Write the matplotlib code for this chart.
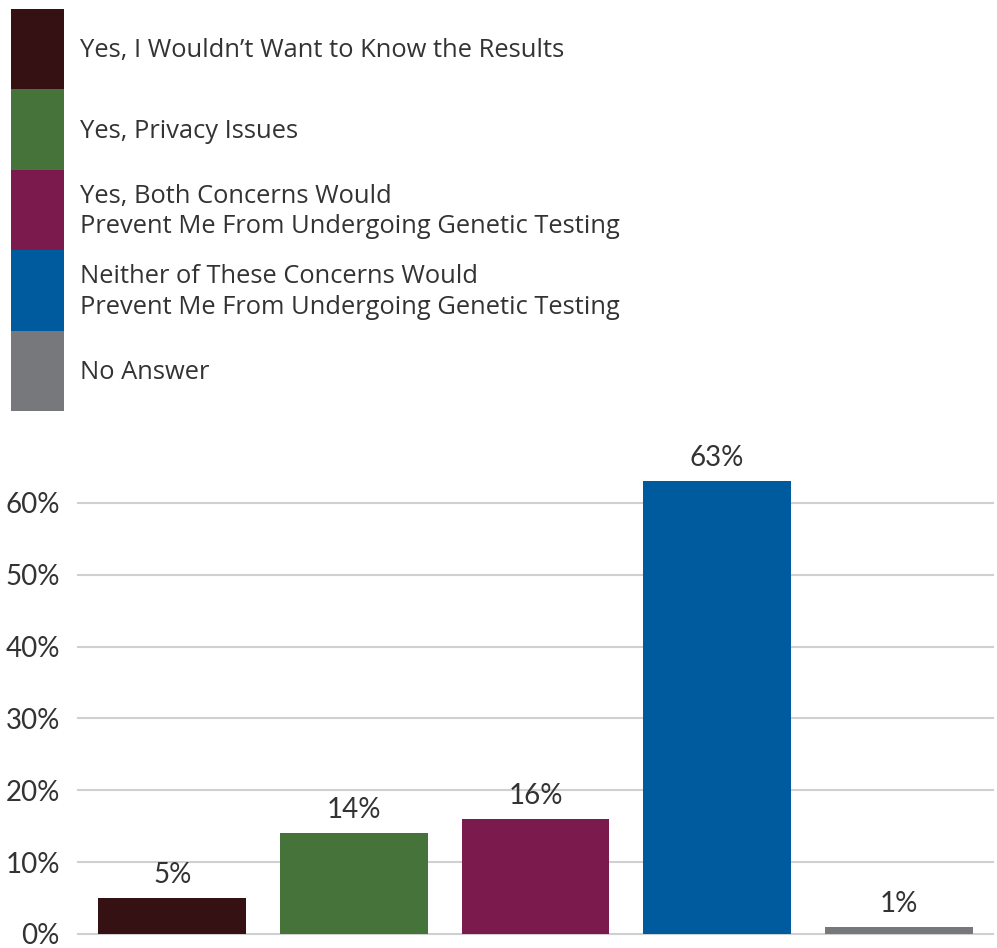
import matplotlib
matplotlib.use("Agg")
import matplotlib.pyplot as plt
from matplotlib.ticker import FuncFormatter

categories = [
    "Yes, I Wouldn\u2019t Want to Know the Results",
    "Yes, Privacy Issues",
    "Yes, Both Concerns Would\nPrevent Me From Undergoing Genetic Testing",
    "Neither of These Concerns Would\nPrevent Me From Undergoing Genetic Testing",
    "No Answer",
]
values = [5, 14, 16, 63, 1]
colors = ["#361114", "#46733A", "#7B1A4C", "#005A9E", "#77787B"]
yticks = [0, 10, 20, 30, 40, 50, 60]

plt.rcParams['font.family'] = ['Lato', 'DejaVu Sans']
TXT = "#333333"

W, H = 997, 948
fig = plt.figure(figsize=(W / 100, H / 100), dpi=100)

# Legend axes (swatches stacked)
lx0, ly0, lx1, ly1 = 11, 9, 700, 411
axl = fig.add_axes([lx0 / W, 1 - ly1 / H, (lx1 - lx0) / W, (ly1 - ly0) / H])
sw = 53.0
n = len(categories)
axl.barh(range(n), [1] * n, height=1.0, left=0, color=colors, edgecolor="none")
axl.set_ylim(n - 0.5, -0.5)
axl.set_xlim(0, (lx1 - lx0) / sw)
for i, c in enumerate(categories):
    axl.text((80 - lx0) / sw, i + 0.02, c, va="center", ha="left", fontsize=18.4,
             color=TXT, linespacing=1.28, family=["Open Sans", "DejaVu Sans"])
axl.axis("off")

# Bar chart axes
ax = fig.add_axes([78 / W, 1 - 934 / H, (993 - 78) / W, (934 - 434) / H])
x = list(range(len(values)))
ax.bar(x, values, width=0.815, color=colors, zorder=3)
ax.set_xlim(-0.52, 4.52)
ax.set_ylim(0, 69.6)
ax.set_yticks(yticks)
ax.yaxis.set_major_formatter(FuncFormatter(lambda v, p: f"{int(v)}%"))
ax.set_xticks([])
ax.tick_params(axis="y", length=0, pad=13, labelsize=20, labelcolor=TXT)
ax.grid(axis="y", color="#d0d0d0", linewidth=1.5, zorder=0)
for gl in ax.get_ygridlines():
    gl.set_clip_on(False)
for s in ax.spines.values():
    s.set_visible(False)
for xi, v in zip(x, values):
    ax.annotate(f"{v}%", (xi, v), xytext=(0, 11), textcoords="offset points",
                ha="center", va="baseline", fontsize=20, color=TXT)

fig.savefig("out.png", dpi=100)
